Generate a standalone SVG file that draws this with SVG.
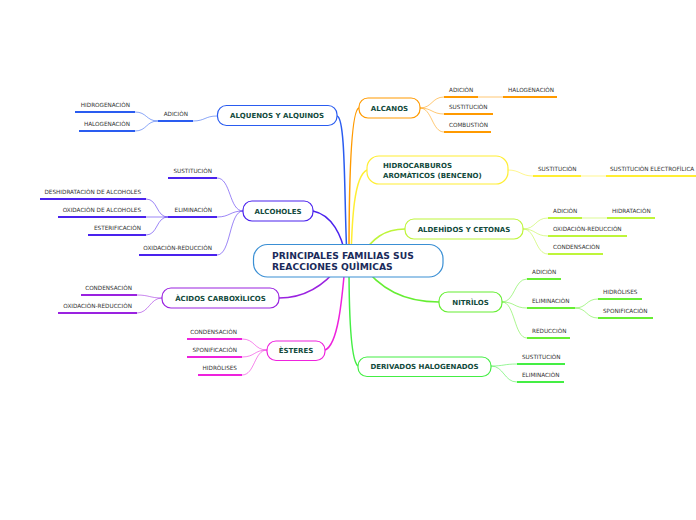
<svg xmlns="http://www.w3.org/2000/svg" width="696" height="520" viewBox="0 0 696 520">
<style>
.node{fill:#fff;stroke-width:1.2}
.nt{font-family:"DejaVu Sans",Verdana,sans-serif;font-weight:bold;font-size:7px;fill:#124a3c;text-anchor:middle}
.ct{font-family:"DejaVu Sans",Verdana,sans-serif;font-weight:bold;font-size:9.2px;fill:#1b2b5b}
.st{font-family:"DejaVu Sans",Verdana,sans-serif;font-size:5.7px;fill:#333}
.r{text-anchor:end}
.main{fill:none;stroke-width:1.5}
.br{fill:none;stroke-width:1;stroke-opacity:0.55}
.ul{fill:none;stroke-width:2}
</style>
<rect width="696" height="520" fill="#fff"/>
<g id="connectors">
  <!-- main -->
  <path class="main" stroke="#2a5cf0" d="M337,116 C346,118 344,200 347,258"/>
  <path class="main" stroke="#ff9a00" d="M359,108 C350,110 349,200 349,258"/>
  <path class="main" stroke="#ffee33" d="M367,170 C354,176 352,220 351,258"/>
  <path class="main" stroke="#4a22ee" d="M313,211 C332,215 342,235 346,258"/>
  <path class="main" stroke="#bef53a" d="M405,229 C385,229 372,238 360,258"/>
  <path class="main" stroke="#9a22e0" d="M279,298 C305,298 325,285 340,265"/>
  <path class="main" stroke="#66ee33" d="M439,302 C405,302 380,290 360,262"/>
  <path class="main" stroke="#ee22dd" d="M325,350 C338,345 342,300 345,265"/>
  <path class="main" stroke="#44ee44" d="M358,366 C350,360 349,300 349,265"/>
  <!-- ALQUENOS -->
  <path class="br" stroke="#2a5cf0" d="M217,116 C205,116 205,121 193,121"/>
  <path class="br" stroke="#2a5cf0" d="M158,121 C146,121 147,112 135,112"/>
  <path class="br" stroke="#2a5cf0" d="M158,121 C146,121 147,131 135,131"/>
  <!-- ALCOHOLES -->
  <path class="br" stroke="#4a22ee" d="M243,211 C229,211 231,178 217,178"/>
  <path class="br" stroke="#4a22ee" d="M243,211 C230,211 230,217 217,217"/>
  <path class="br" stroke="#4a22ee" d="M243,211 C229,211 231,255 217,255"/>
  <path class="br" stroke="#4a22ee" d="M168,217 C156,217 158,199 146,199"/>
  <path class="br" stroke="#4a22ee" d="M168,217 H146"/>
  <path class="br" stroke="#4a22ee" d="M168,217 C156,217 158,235 146,235"/>
  <!-- ACIDOS -->
  <path class="br" stroke="#9a22e0" d="M162,298 C150,298 149,295 137,295"/>
  <path class="br" stroke="#9a22e0" d="M162,298 C150,298 149,313 137,313"/>
  <!-- ESTERES -->
  <path class="br" stroke="#ee22dd" d="M267,350 C254,350 255,339 242,339"/>
  <path class="br" stroke="#ee22dd" d="M267,350 C254,350 255,357 242,357"/>
  <path class="br" stroke="#ee22dd" d="M267,350 C254,350 255,375 242,375"/>
  <!-- ALCANOS -->
  <path class="br" stroke="#ff9a00" d="M420,108 C432,108 432,97 444,97"/>
  <path class="br" stroke="#ff9a00" d="M420,108 C432,108 432,114 444,114"/>
  <path class="br" stroke="#ff9a00" d="M420,108 C432,108 432,132 444,132"/>
  <path class="br" stroke="#ff9a00" d="M478,97 H503"/>
  <!-- HIDROCARBUROS -->
  <path class="br" stroke="#ffee33" d="M508,170 C520,170 521,176 533,176"/>
  <path class="br" stroke="#ffee33" d="M581,176 H606"/>
  <!-- ALDEHIDOS -->
  <path class="br" stroke="#bef53a" d="M523,229 C536,229 535,218 548,218"/>
  <path class="br" stroke="#bef53a" d="M523,229 C536,229 535,236 548,236"/>
  <path class="br" stroke="#bef53a" d="M523,229 C536,229 535,254 548,254"/>
  <path class="br" stroke="#bef53a" d="M582,218 H607"/>
  <!-- NITRILOS -->
  <path class="br" stroke="#66ee33" d="M502,302 C515,302 514,279 527,279"/>
  <path class="br" stroke="#66ee33" d="M502,302 C515,302 514,308 527,308"/>
  <path class="br" stroke="#66ee33" d="M502,302 C515,302 514,338 527,338"/>
  <path class="br" stroke="#66ee33" d="M575,308 C587,308 586,299 598,299"/>
  <path class="br" stroke="#66ee33" d="M575,308 C587,308 586,318 598,318"/>
  <!-- DERIVADOS -->
  <path class="br" stroke="#44ee44" d="M491,366 C504,366 504,364 517,364"/>
  <path class="br" stroke="#44ee44" d="M491,366 C504,366 504,382 517,382"/>
</g>

<g id="central">
  <rect class="node" x="253.5" y="244.5" width="189.5" height="32.5" rx="14" stroke="#3a8fd4"/>
  <text class="ct" x="272" y="259">PRINCIPALES FAMILIAS SUS</text>
  <text class="ct" x="272" y="270">REACCIONES QUÌMICAS</text>
</g>

<g id="alquenos">
  <rect class="node" x="217.5" y="105.5" width="119.5" height="20" rx="9" stroke="#2a5cf0"/>
  <text class="nt" x="277" y="118">ALQUENOS Y ALQUINOS</text>
</g>
<g id="alquenos-adicion">
  <path class="ul" stroke="#2a5cf0" d="M158,121 H193"/>
  <text class="st r" x="188" y="116">ADICIÒN</text>
</g>
<g id="alquenos-hidrogenacion">
  <path class="ul" stroke="#2a5cf0" d="M75,112 H135"/>
  <text class="st r" x="130" y="107">HIDROGENACIÒN</text>
</g>
<g id="alquenos-halogenacion">
  <path class="ul" stroke="#2a5cf0" d="M79,131 H135"/>
  <text class="st r" x="130" y="126">HALOGENACIÒN</text>
</g>

<g id="alcoholes">
  <rect class="node" x="243" y="201" width="70" height="20" rx="9" stroke="#4a22ee"/>
  <text class="nt" x="278" y="213.5">ALCOHOLES</text>
</g>
<g id="alcoholes-sustitucion">
  <path class="ul" stroke="#4a22ee" d="M168,178 H217"/>
  <text class="st r" x="212" y="173">SUSTITUCIÒN</text>
</g>
<g id="alcoholes-eliminacion">
  <path class="ul" stroke="#4a22ee" d="M168,217 H217"/>
  <text class="st r" x="212" y="212">ELIMINACIÒN</text>
</g>
<g id="alcoholes-oxred">
  <path class="ul" stroke="#4a22ee" d="M139,255 H217"/>
  <text class="st r" x="212" y="250">OXIDACIÒN-REDUCCIÒN</text>
</g>
<g id="alcoholes-deshidratacion">
  <path class="ul" stroke="#4a22ee" d="M40,199 H146"/>
  <text class="st r" x="141" y="194">DESHIDRATACIÒN DE ALCOHOLES</text>
</g>
<g id="alcoholes-oxidacion">
  <path class="ul" stroke="#4a22ee" d="M58,217 H146"/>
  <text class="st r" x="141" y="212">OXIDACIÒN DE ALCOHOLES</text>
</g>
<g id="alcoholes-esterificacion">
  <path class="ul" stroke="#4a22ee" d="M88,235 H146"/>
  <text class="st r" x="141" y="230">ESTERIFICACIÒN</text>
</g>

<g id="acidos">
  <rect class="node" x="162" y="288" width="117" height="20" rx="9" stroke="#9a22e0"/>
  <text class="nt" x="220.5" y="300.5">ÀCIDOS CARBOXÌLICOS</text>
</g>
<g id="acidos-condensacion">
  <path class="ul" stroke="#9a22e0" d="M81,295 H137"/>
  <text class="st r" x="132" y="290">CONDENSACIÒN</text>
</g>
<g id="acidos-oxred">
  <path class="ul" stroke="#9a22e0" d="M58,313 H137"/>
  <text class="st r" x="132" y="308">OXIDACIÒN-REDUCCIÒN</text>
</g>

<g id="esteres">
  <rect class="node" x="267" y="341" width="58" height="19.5" rx="9" stroke="#ee22dd"/>
  <text class="nt" x="296" y="353">ÈSTERES</text>
</g>
<g id="esteres-condensacion">
  <path class="ul" stroke="#ee22dd" d="M187,339 H242"/>
  <text class="st r" x="237" y="334">CONDENSACIÒN</text>
</g>
<g id="esteres-sponificacion">
  <path class="ul" stroke="#ee22dd" d="M187,357 H242"/>
  <text class="st r" x="237" y="352">SPONIFICACIÒN</text>
</g>
<g id="esteres-hidrolises">
  <path class="ul" stroke="#ee22dd" d="M198,375 H242"/>
  <text class="st r" x="237" y="370">HIDRÒLISES</text>
</g>

<g id="alcanos">
  <rect class="node" x="359" y="98" width="61" height="20" rx="9" stroke="#ff9a00"/>
  <text class="nt" x="389.5" y="110.5">ALCANOS</text>
</g>
<g id="alcanos-adicion">
  <path class="ul" stroke="#ff9a00" d="M444,97 H478"/>
  <text class="st" x="449" y="92">ADICIÒN</text>
</g>
<g id="alcanos-halogenacion">
  <path class="ul" stroke="#ff9a00" d="M503,97 H557"/>
  <text class="st" x="508" y="92">HALOGENACIÒN</text>
</g>
<g id="alcanos-sustitucion">
  <path class="ul" stroke="#ff9a00" d="M444,114 H493"/>
  <text class="st" x="449" y="109">SUSTITUCIÒN</text>
</g>
<g id="alcanos-combustion">
  <path class="ul" stroke="#ff9a00" d="M444,132 H491"/>
  <text class="st" x="449" y="127">COMBUSTIÒN</text>
</g>

<g id="hidrocarburos">
  <rect class="node" x="367" y="156" width="141" height="28" rx="12" stroke="#ffee33"/>
  <text class="nt" x="383" y="167.5" style="text-anchor:start">HIDROCARBUROS</text>
  <text class="nt" x="383" y="177.5" style="text-anchor:start">AROMÀTICOS (BENCENO)</text>
</g>
<g id="hidrocarburos-sustitucion">
  <path class="ul" stroke="#ffee33" d="M533,176 H581"/>
  <text class="st" x="538" y="171">SUSTITUCIÒN</text>
</g>
<g id="hidrocarburos-electrofilica">
  <path class="ul" stroke="#ffee33" d="M606,176 H696"/>
  <text class="st" x="610" y="171">SUSTITUCIÒN ELECTROFÌLICA</text>
</g>

<g id="aldehidos">
  <rect class="node" x="405" y="219" width="118" height="20" rx="9" stroke="#bef53a"/>
  <text class="nt" x="464" y="231.5">ALDEHÌDOS Y CETONAS</text>
</g>
<g id="aldehidos-adicion">
  <path class="ul" stroke="#bef53a" d="M548,218 H582"/>
  <text class="st" x="553" y="212.5">ADICIÒN</text>
</g>
<g id="aldehidos-hidratacion">
  <path class="ul" stroke="#bef53a" d="M607,218 H655"/>
  <text class="st" x="612" y="212.5">HIDRATACIÒN</text>
</g>
<g id="aldehidos-oxred">
  <path class="ul" stroke="#bef53a" d="M548,236 H627"/>
  <text class="st" x="553" y="231">OXIDACIÒN-REDUCCIÒN</text>
</g>
<g id="aldehidos-condensacion">
  <path class="ul" stroke="#bef53a" d="M548,254 H603"/>
  <text class="st" x="553" y="249">CONDENSACIÒN</text>
</g>

<g id="nitrilos">
  <rect class="node" x="439" y="292" width="63" height="20" rx="9" stroke="#66ee33"/>
  <text class="nt" x="470.5" y="304.5">NITRÌLOS</text>
</g>
<g id="nitrilos-adicion">
  <path class="ul" stroke="#66ee33" d="M527,279 H561"/>
  <text class="st" x="532" y="274">ADICIÒN</text>
</g>
<g id="nitrilos-eliminacion">
  <path class="ul" stroke="#66ee33" d="M527,308 H575"/>
  <text class="st" x="532" y="303">ELIMINACIÒN</text>
</g>
<g id="nitrilos-reduccion">
  <path class="ul" stroke="#66ee33" d="M527,338 H570"/>
  <text class="st" x="532" y="333">REDUCCIÒN</text>
</g>
<g id="nitrilos-hidrolises">
  <path class="ul" stroke="#66ee33" d="M598,299 H642"/>
  <text class="st" x="603" y="294">HIDRÒLISES</text>
</g>
<g id="nitrilos-sponificacion">
  <path class="ul" stroke="#66ee33" d="M598,318 H653"/>
  <text class="st" x="603" y="313">SPONIFICACIÒN</text>
</g>

<g id="derivados">
  <rect class="node" x="358" y="357" width="133" height="19.5" rx="9" stroke="#44ee44"/>
  <text class="nt" x="424.5" y="369">DERIVADOS HALOGENADOS</text>
</g>
<g id="derivados-sustitucion">
  <path class="ul" stroke="#44ee44" d="M517,364 H565"/>
  <text class="st" x="522" y="359">SUSTITUCIÒN</text>
</g>
<g id="derivados-eliminacion">
  <path class="ul" stroke="#44ee44" d="M517,382 H564"/>
  <text class="st" x="522" y="377">ELIMINACIÒN</text>
</g>
</svg>
